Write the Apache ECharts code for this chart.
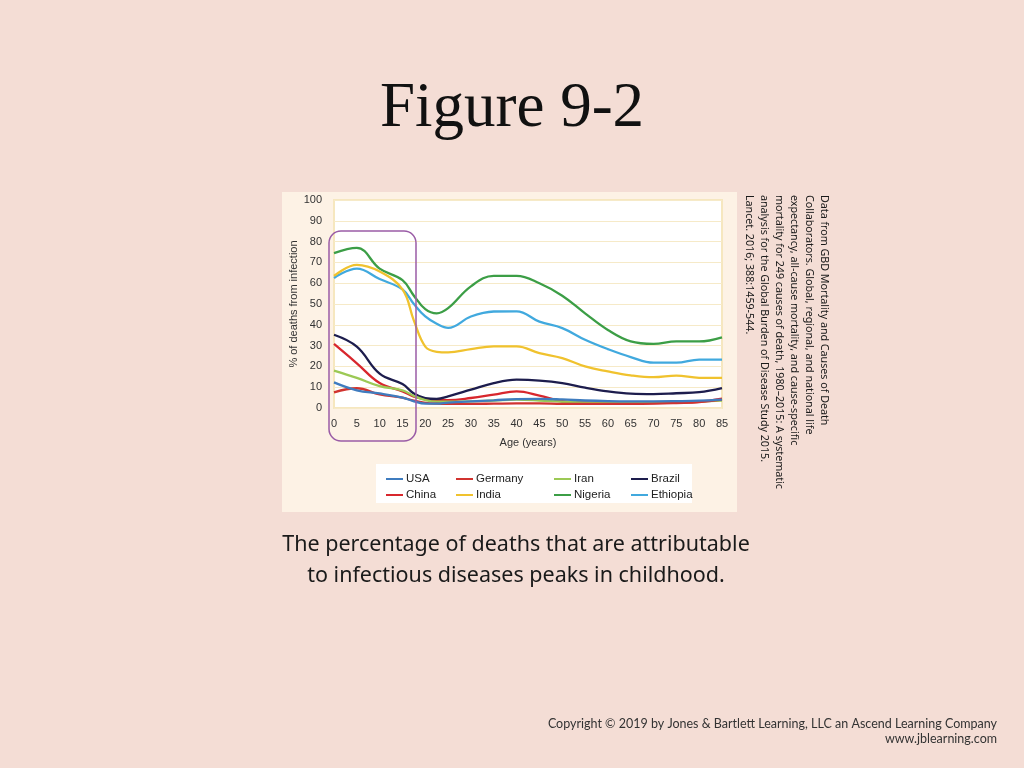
<!DOCTYPE html>
<html>
<head>
<meta charset="utf-8">
<style>
  html, body { margin: 0; padding: 0; background: #f4ddd5; }
  #chart { width: 1024px; height: 768px; }
</style>
<script src="https://cdn.jsdelivr.net/npm/echarts@6/dist/echarts.min.js"></script>
</head>
<body>
<div id="chart"></div>
<script>
// ages (years) shared by all series
var ages = [0, 5, 10, 15, 17.5, 20, 22.5, 25, 30, 35, 40, 45, 50, 55, 60, 65, 70, 75, 80, 85];

// % of deaths from infection
var usa      = [12.3, 8.5, 7, 5, 3.2, 2.1, 2.1, 2.6, 3.2, 3.7, 4.3, 4.4, 4.1, 3.6, 3.3, 3.2, 3.2, 3.3, 3.5, 4];
var germany  = [7.5, 9.5, 6.5, 5, 3.5, 2.5, 2.1, 2, 2, 2.1, 2.2, 2.2, 2, 2, 2, 2, 2.1, 2.4, 2.8, 4];
var iran     = [18, 14.5, 10.5, 8.5, 5.8, 3.8, 3, 3, 3.2, 3.6, 4, 3.6, 3, 2.6, 2.5, 2.5, 2.6, 2.7, 3, 3.5];
var brazil   = [35.2, 29.5, 16.5, 11.5, 7, 4.8, 4.4, 5.6, 8.8, 12, 13.6, 13.2, 12, 9.8, 8, 6.9, 6.7, 7.1, 7.6, 9.6];
var china    = [30.8, 21.5, 12, 8, 5.5, 4.3, 3.8, 3.8, 4.8, 6.4, 8, 6, 3.3, 2.7, 2.5, 2.4, 2.4, 2.6, 3, 4.5];
var india    = [63.5, 68.8, 65.6, 57, 42, 29.5, 27, 26.7, 28.3, 29.6, 29.6, 26.4, 24, 20, 17.6, 15.7, 14.8, 15.6, 14.5, 14.5];
var nigeria  = [74.5, 77, 67, 61.5, 54, 47.5, 45.5, 48, 58.5, 63.5, 63.5, 60, 54, 45.5, 37.5, 32, 30.8, 32, 32, 34];
var ethiopia = [62.5, 67, 62, 57, 50, 44, 40.5, 38.5, 44, 46.4, 46.5, 41.5, 38.4, 32.8, 28.3, 24.5, 21.8, 21.8, 23.3, 23.3];

var names  = ['USA', 'Germany', 'Iran', 'Brazil', 'China', 'India', 'Nigeria', 'Ethiopia'];
var values = [usa, germany, iran, brazil, china, india, nigeria, ethiopia];
var colors = ['#3f7cbf', '#d1332f', '#9cc955', '#1d1d4d', '#d8272d', '#f0c22e', '#3c9e46', '#41a9de'];

var citation = 'Data from GBD Mortality and Causes of Death\n' +
  'Collaborators. Global, regional, and national life\n' +
  'expectancy, all-cause mortality, and cause-specific\n' +
  'mortality for 249 causes of death, 1980\u20132015: A systematic\n' +
  'analysis for the Global Burden of Disease Study 2015.\n' +
  'Lancet. 2016; 388:1459-544.';

var chart = echarts.init(document.getElementById('chart'));

var series = [];
for (var i = 0; i < names.length; i++) {
  var pts = [];
  for (var j = 0; j < ages.length; j++) pts.push([ages[j], values[i][j]]);
  series.push({
    name: names[i],
    type: 'line',
    smooth: 0.4,
    symbol: 'none',
    lineStyle: { width: 2.3, color: colors[i] },
    itemStyle: { color: colors[i] },
    data: pts,
    z: 10 - i
  });
}

function legendCol(left, items) {
  return {
    orient: 'vertical',
    left: left,
    top: 468,
    itemWidth: 17,
    itemHeight: 2,
    itemGap: 4,
    icon: 'rect',
    textStyle: { fontFamily: 'Liberation Sans', fontSize: 11.5, color: '#222', padding: [0, 0, 0, -2] },
    data: items
  };
}

var option = {
  animation: false,
  backgroundColor: '#f4ddd5',
  grid: { left: 334, right: 302, top: 200, bottom: 360, show: true, backgroundColor: '#ffffff', borderColor: '#f6e7bf', borderWidth: 2 },
  xAxis: {
    type: 'value', min: 0, max: 85, interval: 5,
    name: 'Age (years)', nameLocation: 'middle', nameGap: 29,
    nameTextStyle: { fontFamily: 'Liberation Sans', fontSize: 11, color: '#333' },
    axisLine: { show: false }, axisTick: { show: false }, splitLine: { show: false },
    axisLabel: { fontFamily: 'Liberation Sans', fontSize: 11, color: '#333', margin: 10 }
  },
  yAxis: {
    type: 'value', min: 0, max: 100, interval: 10,
    name: '% of deaths from infection', nameLocation: 'middle', nameGap: 32,
    nameTextStyle: { fontFamily: 'Liberation Sans', fontSize: 11, color: '#333' },
    axisLine: { show: false }, axisTick: { show: false },
    splitLine: { lineStyle: { color: '#f6eac8', width: 1 } },
    axisLabel: { fontFamily: 'Liberation Sans', fontSize: 11, color: '#333', margin: 12 }
  },
  legend: [
    legendCol(381, ['USA', 'China']),
    legendCol(451, ['Germany', 'India']),
    legendCol(549, ['Iran', 'Nigeria']),
    legendCol(626, ['Brazil', 'Ethiopia'])
  ],
  graphic: [
    { type: 'rect', shape: { x: 282, y: 192, width: 455, height: 320 }, style: { fill: '#fdf2e5' }, z: -10 },
    { type: 'rect', shape: { x: 376, y: 464, width: 316, height: 39 }, style: { fill: '#ffffff' }, z: -5 },
    { type: 'rect', shape: { x: 329, y: 231, width: 87, height: 210, r: 12 }, style: { fill: 'none', stroke: '#9a5ca6', lineWidth: 1.5 }, z: 100 },
    { type: 'text', left: 'center', top: 78, style: { text: 'Figure 9-2', font: '63px "Liberation Serif"', fill: '#111' } },
    { type: 'text', x: 516, y: 545, style: { text: 'The percentage of deaths that are attributable', font: '21.5px "Noto Sans"', fill: '#1a1a1a', textAlign: 'center', textVerticalAlign: 'middle' } },
    { type: 'text', x: 516, y: 576, style: { text: 'to infectious diseases peaks in childhood.', font: '21.5px "Noto Sans"', fill: '#1a1a1a', textAlign: 'center', textVerticalAlign: 'middle' } },
    { type: 'text', x: 832, y: 195, rotation: -Math.PI / 2, style: { text: citation, font: '10.7px "Noto Sans"', lineHeight: 15, fill: '#1a1a1a', textAlign: 'left', textVerticalAlign: 'top' } },
    { type: 'text', x: 997, y: 724, style: { text: 'Copyright \u00a9 2019 by Jones & Bartlett Learning, LLC an Ascend Learning Company', font: '12.5px Lato', fill: '#333', textAlign: 'right', textVerticalAlign: 'middle' } },
    { type: 'text', x: 997, y: 739, style: { text: 'www.jblearning.com', font: '12.5px Lato', fill: '#333', textAlign: 'right', textVerticalAlign: 'middle' } }
  ],
  series: series
};

chart.setOption(option);
</script>
</body>
</html>
